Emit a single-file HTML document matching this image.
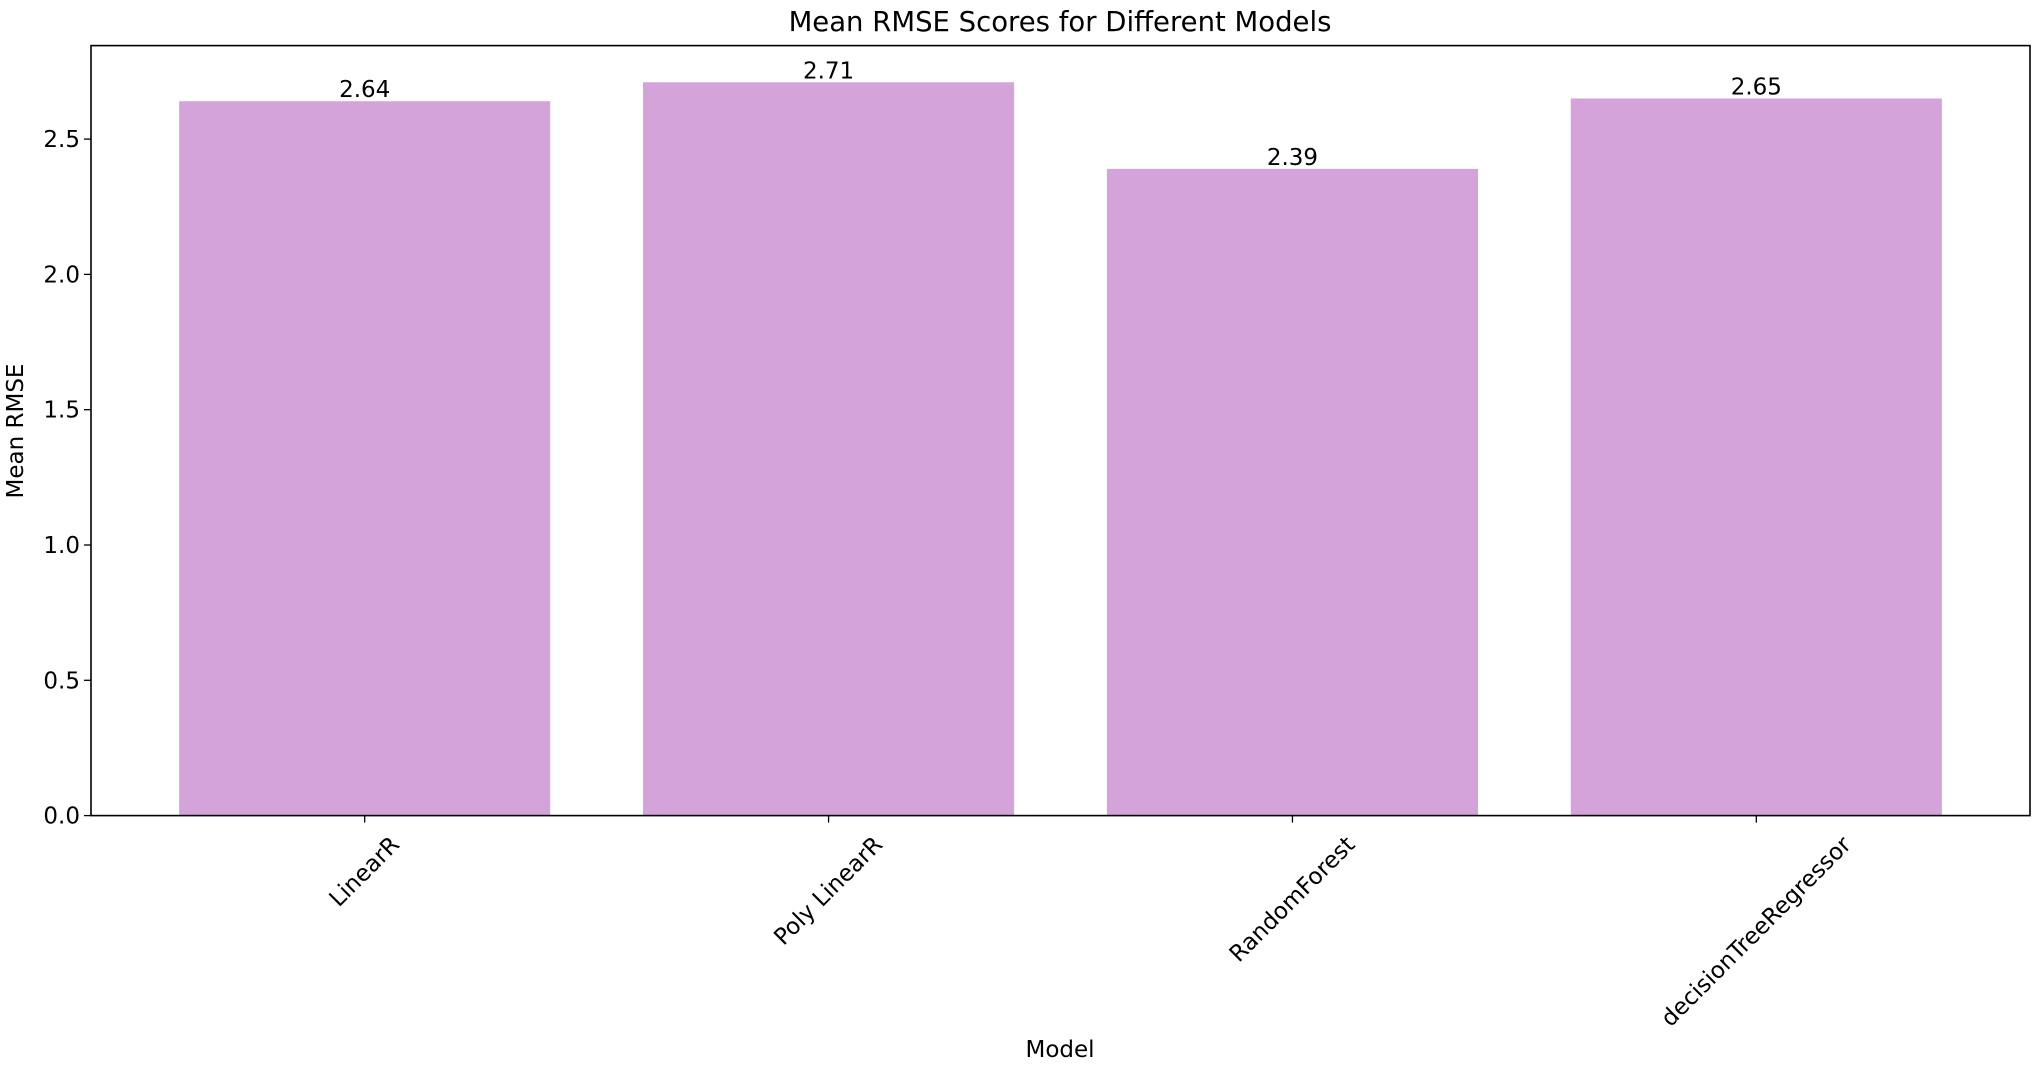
<!DOCTYPE html>
<html><head><meta charset="utf-8"><style>
html,body{margin:0;padding:0;background:#fff;}
svg{display:block;font-family:"DejaVu Sans","Liberation Sans",sans-serif;}
</style></head><body>
<svg id="chart" width="2043" height="1066" viewBox="0 0 2043 1066" xmlns="http://www.w3.org/2000/svg">
<rect width="2043" height="1066" fill="#fff"/>
<text x="1060" y="31" font-size="27.5" text-anchor="middle" fill="#000">Mean RMSE Scores for Different Models</text>
<text transform="translate(23,431) rotate(-90)" font-size="23" text-anchor="middle" fill="#000">Mean RMSE</text>
<text x="1060" y="1057" font-size="23" text-anchor="middle" fill="#000">Model</text>
<g id="bars"></g>
<g id="yticks"></g>
<g id="xticks"></g>
<rect x="91" y="45.6" width="1939" height="770" fill="none" stroke="#000" stroke-width="1.6"/>
</svg>
<script>
const categories = ["LinearR","Poly LinearR","RandomForest","decisionTreeRegressor"];
const values = [2.64, 2.71, 2.39, 2.65];
const valueLabels = ["2.64","2.71","2.39","2.65"];
const yTicks = [0, 0.5, 1.0, 1.5, 2.0, 2.5];
const yTickLabels = ["0.0","0.5","1.0","1.5","2.0","2.5"];

const NS = "http://www.w3.org/2000/svg";
const L = 91, R = 2030, T = 45.6, B = 815.6;
const xMin = -0.59, xMax = categories.length - 1 + 0.59;
const yMax = Math.max(...values) * 1.05;
function xs(v){ return L + (v - xMin) / (xMax - xMin) * (R - L); }
function ys(v){ return B - v / yMax * (B - T); }
function mk(tag, attrs, parent){ const e = document.createElementNS(NS, tag); for (const k in attrs) e.setAttribute(k, attrs[k]); parent.appendChild(e); return e; }

const gb = document.getElementById('bars');
const gy = document.getElementById('yticks');
const gx = document.getElementById('xticks');

categories.forEach((c, i) => {
  const x0 = xs(i - 0.4), x1 = xs(i + 0.4);
  const r = mk('rect', {x: x0, y: ys(values[i]), width: x1 - x0, height: B - ys(values[i]), fill: '#d4a3d9'}, gb);
  
  
  const t = mk('text', {x: xs(i), y: ys(values[i]) - 4, 'font-size': 23, 'text-anchor': 'middle', fill: '#000'}, gb);
  t.textContent = valueLabels[i];
  
  
  const tk = mk('line', {x1: xs(i), x2: xs(i), y1: B, y2: B + 7, stroke: '#000', 'stroke-width': 1.3}, gx);
  
  
  const lab = mk('text', {'font-size': 23, 'text-anchor': 'end', fill: '#000'}, gx);
  lab.textContent = c;
  
  
  const len = lab.getComputedTextLength();
  const ax = xs(i) + len * 0.354 + 5, ay = 846;
  lab.setAttribute('transform', `translate(${ax},${ay}) rotate(-45)`);
});

yTicks.forEach((v, i) => {
  const tk = mk('line', {x1: L - 7, x2: L, y1: ys(v), y2: ys(v), stroke: '#000', 'stroke-width': 1.3}, gy);
  
  
  const t = mk('text', {x: L - 11, y: ys(v) + 8, 'font-size': 23, 'text-anchor': 'end', fill: '#000'}, gy);
  t.textContent = yTickLabels[i];
  
  
});
</script>
</body></html>
